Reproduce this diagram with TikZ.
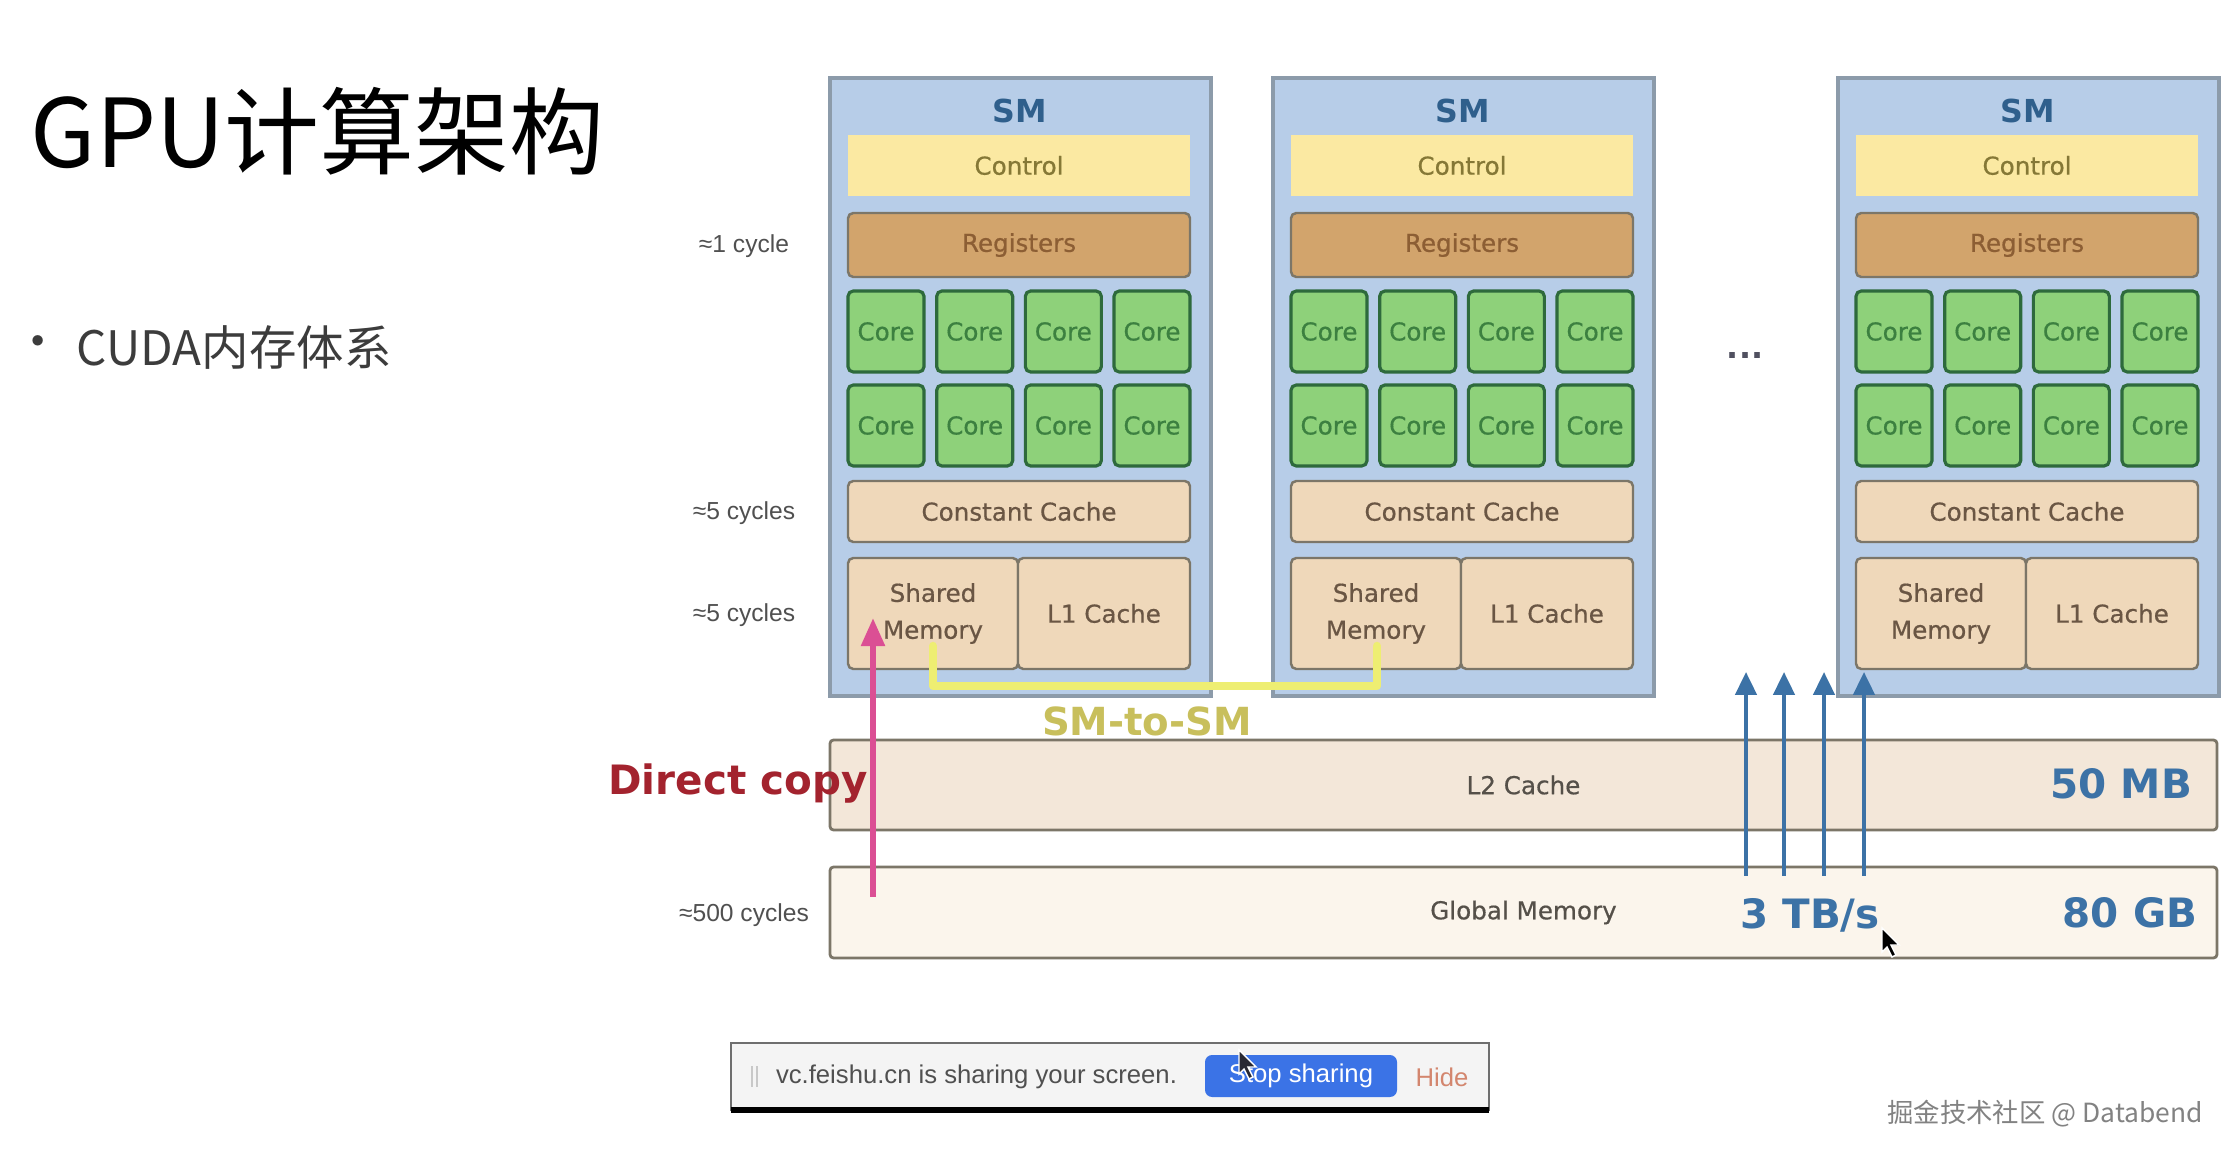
\documentclass[tikz,border=0pt]{standalone}
\usepackage{fontspec}
\setmainfont{DejaVu Sans}
\newfontfamily\cjk{Noto Sans CJK SC}
\newfontfamily\lib{Liberation Sans}
\newfontfamily\semib[FakeBold=0.6]{DejaVu Sans}
\usetikzlibrary{arrows.meta}

\definecolor{smfill}{HTML}{B7CDE8}
\definecolor{smdraw}{HTML}{8C9BAA}
\definecolor{ctlfill}{HTML}{FBE9A2}
\definecolor{ctltext}{HTML}{857836}
\definecolor{regfill}{HTML}{D2A46C}
\definecolor{regtext}{HTML}{8C5E34}
\definecolor{corefill}{HTML}{8ED17A}
\definecolor{coredraw}{HTML}{2E6A3C}
\definecolor{coretext}{HTML}{3C8040}
\definecolor{cachefill}{HTML}{EFD8BA}
\definecolor{cachetext}{HTML}{6A5644}
\definecolor{boxdraw}{HTML}{7C7668}
\definecolor{ltwofill}{HTML}{F3E7D9}
\definecolor{gmfill}{HTML}{FBF5EC}
\definecolor{memtext}{HTML}{555049}
\definecolor{blueacc}{HTML}{3C72A6}
\definecolor{smlabel}{HTML}{2F5F8C}
\definecolor{pinkarrow}{HTML}{DB4F94}
\definecolor{dcred}{HTML}{A3232E}
\definecolor{yelline}{HTML}{EEEE72}
\definecolor{yeltext}{HTML}{C8BF5C}
\definecolor{cyc}{HTML}{505050}
\definecolor{subtext}{HTML}{3C3C3C}
\definecolor{dotcol}{HTML}{505060}
\definecolor{barfill}{HTML}{F4F4F4}
\definecolor{bardraw}{HTML}{6E6E6E}
\definecolor{gripcol}{HTML}{C8C8C8}
\definecolor{sharetext}{HTML}{505050}
\definecolor{btnblue}{HTML}{3B73E6}
\definecolor{hidecol}{HTML}{D3866E}
\definecolor{cur2col}{HTML}{282832}
\definecolor{wmcol}{HTML}{828282}

\newcommand\bx[7]{\node[#2, minimum width={((#5)-(#3))*0.01cm}, minimum height={((#6)-(#4))*0.01cm}] (#1) at ({((#3)+(#5))/2},{((#4)+(#6))/2}) {#7};}

\tikzset{
  base/.style={inner sep=0pt, outer sep=0pt},
  smbox/.style={base, draw=smdraw, fill=smfill, line width=0.9pt},
  ctlbox/.style={base, fill=ctlfill, text=ctltext, font=\semib\fontsize{7}{8}\selectfont},
  regbox/.style={base, draw=boxdraw, fill=regfill, line width=0.7pt, rounded corners=1.5pt, text=regtext, font=\semib\fontsize{7}{8}\selectfont},
  corebox/.style={base, draw=coredraw, fill=corefill, line width=0.9pt, rounded corners=1.5pt, text=coretext, font=\semib\fontsize{7}{8}\selectfont},
  cachebox/.style={base, draw=boxdraw, fill=cachefill, line width=0.7pt, rounded corners=1.5pt, text=cachetext, font=\semib\fontsize{7}{10.5}\selectfont, align=center},
  membox/.style={base, draw=boxdraw, line width=0.8pt, rounded corners=1pt, text=memtext, font=\semib\fontsize{7}{8}\selectfont},
  smtitle/.style={base, text=smlabel, font=\bfseries\fontsize{9}{10}\selectfont},
  cyclabel/.style={base, text=cyc, font=\lib\fontsize{7}{8}\selectfont},
  bigblue/.style={base, text=blueacc, font=\bfseries\fontsize{11.5}{12}\selectfont},
  bluearrow/.style={draw=blueacc, line width=1.1pt, -{Triangle[width=6pt,length=6.5pt]}},
  pinkarr/.style={draw=pinkarrow, line width=1.7pt, -{Triangle[width=6.5pt,length=8pt]}},
  yelpath/.style={draw=yelline, line width=2.4pt, line cap=round, line join=round},
  cursor/.style={fill=black, draw=white, line width=0.4pt},
}

\begin{document}
\begin{tikzpicture}[x=0.01cm, y=-0.01cm]
\useasboundingbox (0,0) rectangle (2226,1158);
\fill[white] (0,0) rectangle (2226,1158);

% title
\node[base, anchor=west, font=\cjk\fontsize{27}{30}\selectfont] (title) at (31,131) {GPU计算架构};
\node[base, text=subtext, font=\cjk\fontsize{14}{15}\selectfont] (bullet) at (38,348) {•};
\node[base, anchor=west, text=subtext, font=\cjk\fontsize{13.5}{15}\selectfont] (sub) at (77,348) {CUDA内存体系};

% cycle labels
\node[cyclabel] (cy1) at (744,246) {≈1 cycle};
\node[cyclabel] (cy5a) at (744,513) {≈5 cycles};
\node[cyclabel] (cy5b) at (744,615) {≈5 cycles};
\node[cyclabel] (cy500) at (744,915) {≈500 cycles};

% SMs
\foreach \i/\ox in {1/830,2/1273,3/1838}{
  \bx{sm\i}{smbox}{\ox}{78}{\ox+381}{696}{}
  \node[smtitle] (smt\i) at (\ox+190,111) {SM};
  \bx{ctl\i}{ctlbox}{\ox+18}{135}{\ox+360}{196}{Control}
  \bx{reg\i}{regbox}{\ox+18}{213}{\ox+360}{277}{Registers}
  \foreach \r/\ya/\yb in {0/291/372,1/385/466}{
    \foreach \c in {0,...,3}{
      \bx{c\i-\r\c}{corebox}{\ox+18+\c*88.67}{\ya}{\ox+94+\c*88.67}{\yb}{Core}
    }
  }
  \bx{cc\i}{cachebox}{\ox+18}{481}{\ox+360}{542}{Constant Cache}
  \bx{sh\i}{cachebox}{\ox+18}{558}{\ox+188}{669}{Shared\\Memory}
  \bx{lone\i}{cachebox}{\ox+188}{558}{\ox+360}{669}{L1 Cache}
}
\node[base, text=dotcol, font=\bfseries\fontsize{9}{10}\selectfont] (dots) at (1745,356) {...};

% memories
\bx{ltwo}{membox, fill=ltwofill}{830}{740}{2217}{830}{L2 Cache}
\bx{gm}{membox, fill=gmfill}{830}{867}{2217}{958}{Global Memory}
\node[bigblue, anchor=east] (mb) at (2192,784) {50 MB};
\node[bigblue, anchor=east] (gb) at (2197,913) {80 GB};
\node[bigblue] (tbs) at (1810,915) {3 TB/s};

% blue arrows
\foreach \k/\xx in {1/1746,2/1784,3/1824,4/1864}{
  \coordinate (bs\k) at (\xx,876);
  \coordinate (be\k) at (\xx,672);
  \draw[bluearrow] (bs\k) -- (be\k);
}

% SM-to-SM
\coordinate (ya) at (933,646);
\coordinate (yb) at (1377,646);
\coordinate (ymid) at (1155,686);
\draw[yelpath] (ya) |- (ymid) -| (yb);
\node[base, text=yeltext, font=\bfseries\fontsize{11}{12}\selectfont] (smsm) at (1147,721) {SM-to-SM};

% direct copy
\node[base, text=dcred, font=\bfseries\fontsize{11.5}{12}\selectfont] (dc) at (738,784) {Direct copy};
\coordinate (ps) at (873,897);
\coordinate (pe) at (873,618);
\draw[pinkarr] (ps) -- (pe);

% cursor near 3 TB/s
\coordinate (cur1) at (1882,928);
\draw[cursor] (cur1) -- ++(0,24) -- ++(5,-5) -- ++(5,10) -- ++(4,-2) -- ++(-5,-10) -- ++(8,0) -- cycle;

% screen share bar
\bx{bar}{base, fill=barfill, draw=bardraw, line width=0.6pt}{731}{1043}{1489}{1110}{}
\draw[line width=1.6pt, black] (bar.south west) -- (bar.south east);
\draw[line width=0.8pt, draw=gripcol] (752,1066) -- (752,1087) (757,1066) -- (757,1087);
\node[base, anchor=west, text=sharetext, font=\lib\fontsize{7.3}{8}\selectfont] (share) at (776,1077) {vc.feishu.cn is sharing your screen.};
\bx{stop}{base, fill=btnblue, rounded corners=2pt, text=white, font=\lib\fontsize{7.3}{8}\selectfont}{1205}{1055}{1397}{1097}{Stop sharing}
\node[base, text=hidecol, font=\lib\fontsize{7.3}{8}\selectfont] (hide) at (1442,1077) {Hide};
\coordinate (cur2) at (1239,1050);
\draw[cursor, fill=cur2col] (cur2) -- ++(0,24) -- ++(5,-5) -- ++(5,10) -- ++(4,-2) -- ++(-5,-10) -- ++(8,0) -- cycle;

% watermark
\node[base, text=wmcol, font=\cjk\fontsize{7.5}{9}\selectfont] (wm) at (2045,1114) {掘金技术社区 @ Databend};
\end{tikzpicture}
\end{document}
